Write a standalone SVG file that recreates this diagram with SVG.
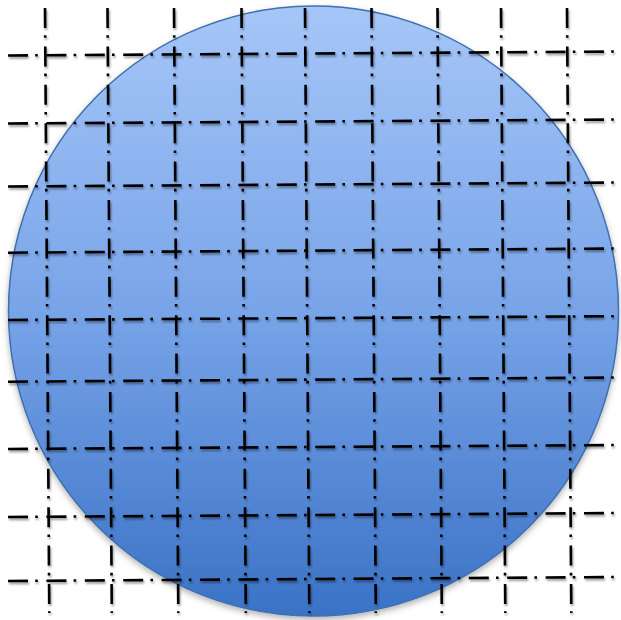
<svg xmlns="http://www.w3.org/2000/svg" width="621" height="620" viewBox="0 0 621 620">
  <defs>
    <linearGradient id="wafer" x1="0" y1="0" x2="0" y2="1">
      <stop offset="0" stop-color="#a6c6f8"/>
      <stop offset="0.5" stop-color="#78a4e8"/>
      <stop offset="1" stop-color="#3a72c6"/>
    </linearGradient>
    <filter id="circShadow" x="-10%" y="-10%" width="120%" height="120%">
      <feDropShadow dx="0" dy="3" stdDeviation="3" flood-color="#000" flood-opacity="0.3"/>
    </filter>
    <filter id="lineShadow" x="-5%" y="-5%" width="110%" height="110%">
      <feDropShadow dx="1" dy="2" stdDeviation="1" flood-color="#000" flood-opacity="0.4"/>
    </filter>
  </defs>
  <style>
    .grid line { stroke: #000; stroke-width: 2.6; stroke-dasharray: 20 7.2 2.6 8.6; fill: none; }
  </style>
  <rect width="621" height="620" fill="#fff"/>
  <g id="wafer-disc">
    <circle cx="313.5" cy="311" r="305" fill="url(#wafer)" stroke="#3f6fae" stroke-width="1.5" filter="url(#circShadow)"/>
  </g>
  <g id="grid" class="grid" filter="url(#lineShadow)">
    <g id="vertical-lines">
      <line x1="45" y1="8" x2="49.3" y2="613"/>
      <line x1="107.5" y1="8" x2="111.8" y2="613"/>
      <line x1="174" y1="8" x2="178.3" y2="613"/>
      <line x1="241.5" y1="8" x2="245.8" y2="613"/>
      <line x1="305" y1="8" x2="309.3" y2="613"/>
      <line x1="371.5" y1="8" x2="375.8" y2="613"/>
      <line x1="437.5" y1="8" x2="441.8" y2="613"/>
      <line x1="501" y1="8" x2="505.3" y2="613"/>
      <line x1="567" y1="8" x2="571.3" y2="613"/>
    </g>
    <g id="horizontal-lines">
      <line x1="8" y1="55.5" x2="616" y2="51.5"/>
      <line x1="8" y1="123.5" x2="616" y2="119.5"/>
      <line x1="8" y1="186.5" x2="616" y2="182.5"/>
      <line x1="8" y1="252.7" x2="616" y2="248.5"/>
      <line x1="8" y1="320" x2="616" y2="316.2"/>
      <line x1="8" y1="381.7" x2="616" y2="377.5"/>
      <line x1="8" y1="449" x2="616" y2="445"/>
      <line x1="8" y1="517" x2="616" y2="513"/>
      <line x1="8" y1="581" x2="616" y2="577"/>
    </g>
  </g>
</svg>
